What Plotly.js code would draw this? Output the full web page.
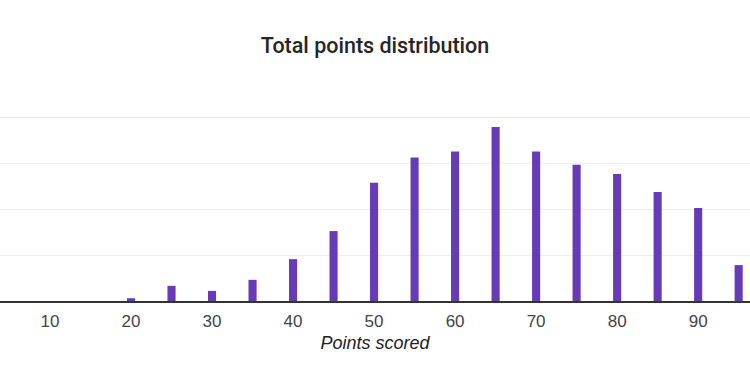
<!DOCTYPE html>
<html>
<head>
<meta charset="utf-8">
<script src="https://cdn.plot.ly/plotly-3.0.1.min.js"></script>
<style>html,body{margin:0;padding:0;background:#fff;}#chart{width:750px;height:386px;}</style>
</head>
<body>
<div id="chart"></div>
<script>
const points = [20, 25, 30, 35, 40, 45, 50, 55, 60, 65, 70, 75, 80, 85, 90, 95];
const share = [0.6, 3.3, 2.2, 4.6, 9.1, 15.2, 25.7, 31.2, 32.5, 37.8, 32.5, 29.6, 27.6, 23.7, 20.2, 7.8];
const tickVals = [10, 20, 30, 40, 50, 60, 70, 80, 90];

Plotly.newPlot('chart', [{
  type: 'bar',
  x: points,
  y: share,
  width: 1,
  marker: {color: '#673ab7'},
  hoverinfo: 'x+y'
}], {
  width: 750,
  height: 386,
  margin: {l: 0, r: 0, t: 94, b: 85},
  paper_bgcolor: '#fff',
  plot_bgcolor: '#fff',
  title: {
    text: 'Total points distribution',
    x: 0.5, xanchor: 'center',
    y: 1 - 45/386, yanchor: 'middle',
    font: {family: 'Roboto, sans-serif', size: 21.5, weight: 500, color: '#262626'}
  },
  xaxis: {
    range: [3.83, 96.4],
    tickvals: tickVals,
    ticktext: tickVals.map(String),
    tickfont: {family: 'Liberation Sans, Arial, sans-serif', size: 17, color: '#444'},
    ticklabelstandoff: 4,
    showgrid: false,
    zeroline: false,
    showline: true,
    linecolor: '#333',
    linewidth: 1.5,
    ticks: '',
    title: {text: '<i>Points scored</i>', standoff: 6,
      font: {family: 'Liberation Sans, Arial, sans-serif', size: 18, color: '#222'}}
  },
  yaxis: {
    range: [0, 45],
    dtick: 10,
    showticklabels: false,
    showgrid: true,
    gridcolor: '#ececec',
    gridwidth: 1,
    zeroline: false,
    showline: false,
    ticks: ''
  },
  showlegend: false
}, {displayModeBar: false, staticPlot: true});
</script>
</body>
</html>
